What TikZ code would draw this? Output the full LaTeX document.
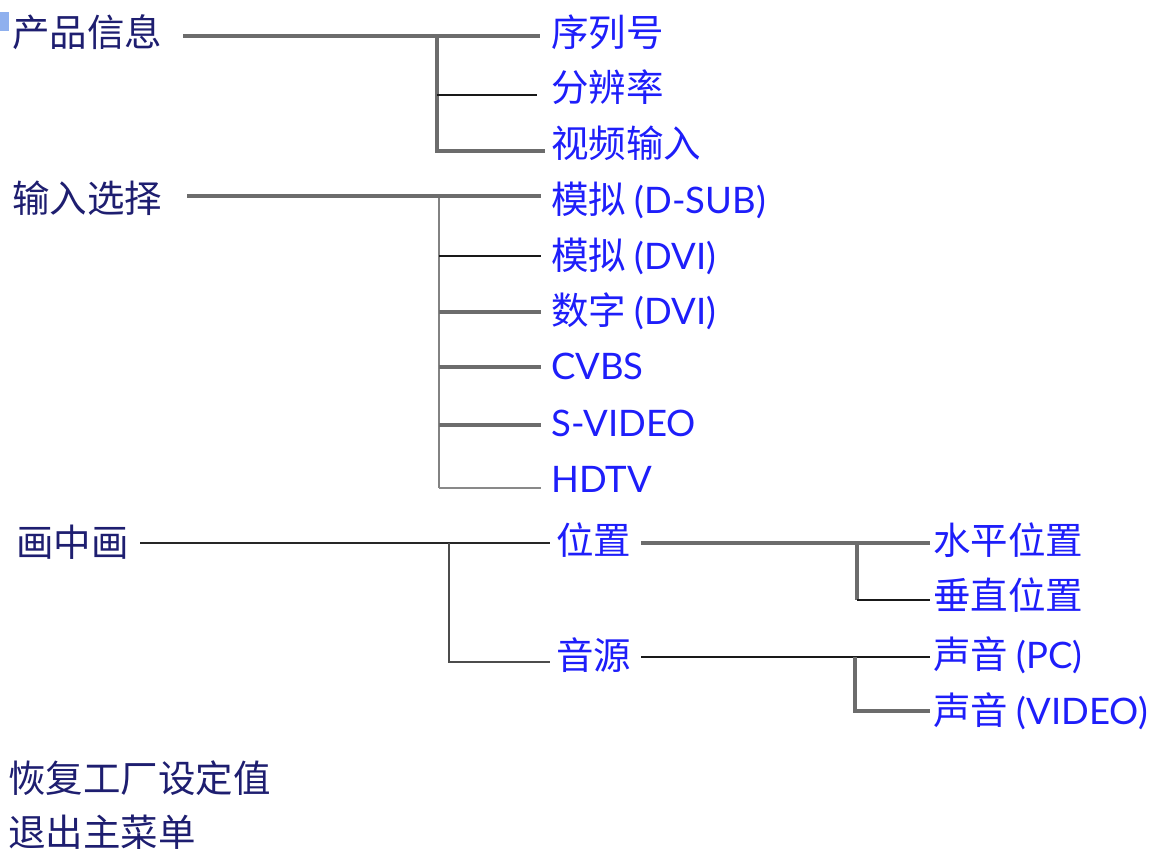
\documentclass[tikz,border=0pt]{standalone}
\usepackage{fontspec}
\setmainfont{Lato}
\newfontfamily\cjk{Noto Sans CJK SC}
\newcommand{\lat}[1]{{\rmfamily\fontsize{36.5}{39}\selectfont #1}}
\definecolor{navy}{RGB}{30,30,112}
\definecolor{lblue}{RGB}{30,30,250}
\definecolor{gline}{RGB}{108,108,108}
\definecolor{sq}{RGB}{143,176,238}
\tikzset{
  lab/.style={anchor=west, inner sep=0pt, font=\cjk\fontsize{37.5}{40}\selectfont},
  top/.style={lab, text=navy},
  sub/.style={lab, text=lblue},
  gthick/.style={draw=gline, line width=3.2pt},
  gmid/.style={draw=gline!85, line width=2pt},
  bthin/.style={draw=black!90, line width=2pt},
  bmid/.style={draw=black!85, line width=2.6pt},
  lthin/.style={draw=gline!80, line width=1.6pt},
  dthin/.style={draw=black!70, line width=1.6pt}
}
\begin{document}
\begin{tikzpicture}[x=1pt,y=-1pt]
\fill[white] (0,0) rectangle (1160,855);
\useasboundingbox (0,0) rectangle (1160,855);
% marker square
\fill[sq] (0,12) rectangle (9,31);
% main menu items
\node[top] (p1) at (12,32) {产品信息};
\node[top] (p2) at (12,198) {输入选择};
\node[top] (p3) at (16,542) {画中画};
\node[top] (p4) at (8,778) {恢复工厂设定值};
\node[top] (p5) at (8,832) {退出主菜单};
% level 2
\node[sub] (c11) at (551,32) {序列号};
\node[sub] (c12) at (551,87) {分辨率};
\node[sub] (c13) at (551,143) {视频输入};
\node[sub] (c21) at (551,200) {模拟 \lat{(D-SUB)}};
\node[sub] (c22) at (551,256) {模拟 \lat{(DVI)}};
\node[sub] (c23) at (551,311) {数字 \lat{(DVI)}};
\node[sub] (c24) at (551,366) {\lat{CVBS}};
\node[sub] (c25) at (551,423) {\lat{S-VIDEO}};
\node[sub] (c26) at (551,479) {\lat{HDTV}};
\node[sub] (c31) at (556,540) {位置};
\node[sub] (c32) at (556,655) {音源};
% level 3
\node[sub] (d1) at (933,540) {水平位置};
\node[sub] (d2) at (933,595) {垂直位置};
\node[sub] (d3) at (933,655) {声音 \lat{(PC)}};
\node[sub] (d4) at (933,711) {声音 \lat{(VIDEO)}};
% coordinates: group 1
\coordinate (s1) at (183,36);
\coordinate (j1) at (437,36);
\coordinate (e11) at (540,36);
\coordinate (e12) at (537,95);
\coordinate (e13) at (545,151);
\draw[gthick] (s1) -- (e11);
\draw[gthick] (j1) |- (e13);
\draw[bthin] (j1 |- e12) -- (e12);
% group 2
\coordinate (s2) at (187,196);
\coordinate (j2) at (439,196);
\coordinate (e21) at (541,196);
\coordinate (e22) at (541,256);
\coordinate (e23) at (541,312);
\coordinate (e24) at (541,367);
\coordinate (e25) at (541,425);
\coordinate (e26) at (541,488);
\draw[gmid] (j2) -- (j2 |- e26);
\draw[gthick] (s2) -- (e21);
\draw[bthin] (j2 |- e22) -- (e22);
\draw[gthick] (j2 |- e23) -- (e23);
\draw[gthick] (j2 |- e24) -- (e24);
\draw[gthick] (j2 |- e25) -- (e25);
\draw[lthin] (j2 |- e26) -- (e26);
% group 3
\coordinate (s3) at (140,543);
\coordinate (j3) at (449,543);
\coordinate (e31) at (550,543);
\coordinate (e32) at (550,662);
\draw[bmid] (s3) -- (e31);
\draw[dthin] (j3) |- (e32);
% sub group position
\coordinate (s4) at (641,543);
\coordinate (j4) at (857,543);
\coordinate (e41) at (930,543);
\coordinate (e42) at (930,600);
\draw[gthick] (s4) -- (e41);
\draw[gthick] (j4) -- (j4 |- e42);
\draw[bthin] (j4 |- e42) -- (e42);
% sub group audio source
\coordinate (s5) at (641,657);
\coordinate (j5) at (855,657);
\coordinate (e51) at (930,657);
\coordinate (e52) at (930,711);
\draw[bthin] (s5) -- (e51);
\draw[gthick] (j5) |- (e52);
\end{tikzpicture}
\end{document}
